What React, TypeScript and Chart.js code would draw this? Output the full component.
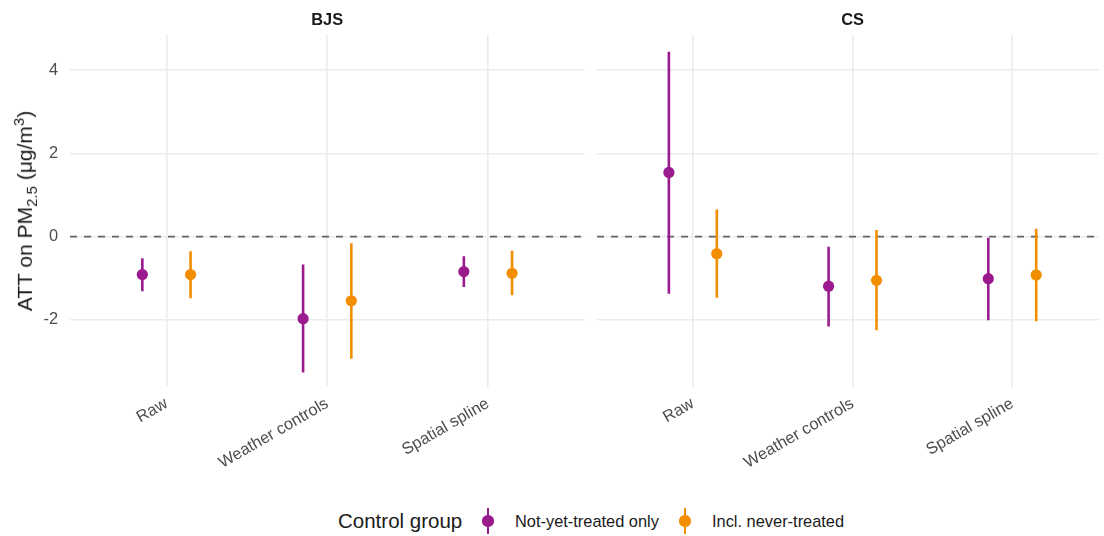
import React, { useEffect, useRef } from 'react';
import { Chart, registerables } from 'chart.js';

Chart.register(...registerables);

// ---- data ----
const methods = ['Raw', 'Weather controls', 'Spatial spline'];
const seriesNames = ['Not-yet-treated only', 'Incl. never-treated'];
const seriesColors = ['#9B1B8E', '#F28E00'];
const yTickValues = [-2, 0, 2, 4];
const dodge = [-0.15, 0.15];

// BJS panel
const bjsNytEst = [-0.91, -1.97, -0.84];
const bjsNytLo = [-1.31, -3.26, -1.21];
const bjsNytHi = [-0.52, -0.67, -0.47];
const bjsInclEst = [-0.91, -1.54, -0.88];
const bjsInclLo = [-1.48, -2.93, -1.41];
const bjsInclHi = [-0.35, -0.16, -0.34];

// CS panel
const csNytEst = [1.54, -1.19, -1.01];
const csNytLo = [-1.37, -2.16, -2.01];
const csNytHi = [4.44, -0.245, -0.03];
const csInclEst = [-0.41, -1.05, -0.92];
const csInclLo = [-1.47, -2.25, -2.03];
const csInclHi = [0.65, 0.16, 0.19];

const FONT = '"Liberation Sans", Arial, Helvetica, sans-serif';
const Y_MIN = -3.61;
const Y_MAX = 4.84;

const stripPlugin = {
  id: 'strip',
  afterDraw(chart: any, _args: any, opts: any) {
    const { ctx } = chart;
    const x = chart.scales.x.getPixelForValue(1);
    ctx.save();
    ctx.font = `bold 16.4px ${FONT}`;
    ctx.fillStyle = '#1A1A1A';
    ctx.textAlign = 'center';
    ctx.textBaseline = 'middle';
    ctx.fillText(opts.text, x, 20);
    ctx.restore();
  },
};

function makeDatasets(est: number[][], lo: number[][], hi: number[][], xMin: number, xMax: number) {
  const ds: any[] = [];
  ds.push({
    data: [{ x: xMin, y: 0 }, { x: xMax, y: 0 }],
    showLine: true,
    borderColor: '#666666',
    borderWidth: 1.8,
    borderDash: [7, 7],
    pointRadius: 0,
    order: 10,
  });
  est.forEach((values, s) => {
    const off = dodge[s];
    values.forEach((_v, i) => {
      ds.push({
        data: [{ x: i + off, y: lo[s][i] }, { x: i + off, y: hi[s][i] }],
        showLine: true,
        borderColor: seriesColors[s],
        borderWidth: 2.6,
        borderCapStyle: 'butt',
        pointRadius: 0,
        order: 5,
      });
    });
    ds.push({
      data: values.map((v, i) => ({ x: i + off, y: v })),
      showLine: false,
      pointRadius: 5.6,
      pointBackgroundColor: seriesColors[s],
      pointBorderWidth: 0,
      backgroundColor: seriesColors[s],
      borderColor: seriesColors[s],
      order: 1,
    });
  });
  return ds;
}

function makeConfig(opts: {
  title: string;
  est: number[][];
  lo: number[][];
  hi: number[][];
  xMax: number;
  showY: boolean;
  padLeft: number;
  padRight: number;
  yWidth: number;
  xHeight: number;
}) {
  const xMin = -0.6;
  return {
    type: 'scatter' as const,
    data: { datasets: makeDatasets(opts.est, opts.lo, opts.hi, xMin, opts.xMax) },
    options: {
      responsive: false,
      animation: false as const,
      devicePixelRatio: 1,
      layout: { padding: { top: 35, left: opts.padLeft, right: opts.padRight, bottom: 0 } },
      plugins: {
        legend: { display: false },
        tooltip: { enabled: false },
        strip: { text: opts.title },
      },
      scales: {
        x: {
          type: 'linear' as const,
          min: xMin,
          max: opts.xMax,
          afterBuildTicks: (scale: any) => {
            scale.ticks = methods.map((_m, i) => ({ value: i }));
          },
          afterFit: (scale: any) => {
            scale.height = opts.xHeight;
          },
          border: { display: false },
          grid: { color: '#EBEBEB', lineWidth: 1.6, drawTicks: false },
          ticks: {
            autoSkip: false,
            minRotation: 30,
            maxRotation: 30,
            padding: 7,
            color: '#4D4D4D',
            font: { family: FONT, size: 16.4 },
            callback: (v: any) => methods[Math.round(Number(v))] ?? '',
          },
        },
        y: {
          type: 'linear' as const,
          min: Y_MIN,
          max: Y_MAX,
          afterBuildTicks: (scale: any) => {
            scale.ticks = yTickValues.map((v) => ({ value: v }));
          },
          afterFit: (scale: any) => {
            scale.width = opts.yWidth;
          },
          border: { display: false },
          grid: { color: '#EBEBEB', lineWidth: 1.6, drawTicks: false },
          ticks: {
            display: opts.showY,
            padding: 12,
            color: '#4D4D4D',
            font: { family: FONT, size: 16.4 },
            callback: (v: any) => String(v),
          },
        },
      },
    },
    plugins: [stripPlugin],
  };
}

export default function App() {
  const leftRef = useRef<HTMLCanvasElement>(null);
  const rightRef = useRef<HTMLCanvasElement>(null);

  useEffect(() => {
    document.body.style.margin = '0';
    const left = new Chart(
      leftRef.current as HTMLCanvasElement,
      makeConfig({
        title: 'BJS',
        est: [bjsNytEst, bjsInclEst],
        lo: [bjsNytLo, bjsInclLo],
        hi: [bjsNytHi, bjsInclHi],
        xMax: 2.6,
        showY: true,
        padLeft: 0,
        padRight: 4,
        yWidth: 70,
        xHeight: 103,
      }) as any
    );
    const right = new Chart(
      rightRef.current as HTMLCanvasElement,
      makeConfig({
        title: 'CS',
        est: [csNytEst, csInclEst],
        lo: [csNytLo, csInclLo],
        hi: [csNytHi, csInclHi],
        xMax: -0.6 + (1104 - 597) / 161.5,
        showY: false,
        padLeft: 7,
        padRight: 0,
        yWidth: 0,
        xHeight: 103,
      }) as any
    );
    return () => {
      left.destroy();
      right.destroy();
    };
  }, []);

  const legendTextStyle: React.CSSProperties = {
    position: 'absolute',
    top: 521,
    transform: 'translateY(-50%)',
    fontSize: 16.4,
    color: '#1A1A1A',
    whiteSpace: 'nowrap',
  };

  const glyph = (cx: number, color: string) => (
    <div style={{ position: 'absolute', left: cx - 8, top: 521 - 13, width: 16, height: 26 }}>
      <div style={{ position: 'absolute', left: 6.7, top: 0, width: 2.6, height: 26, background: color }} />
      <div
        style={{
          position: 'absolute',
          left: 2.4,
          top: 7.4,
          width: 11.2,
          height: 11.2,
          borderRadius: '50%',
          background: color,
        }}
      />
    </div>
  );

  return (
    <div
      style={{
        position: 'fixed',
        left: 0,
        top: 0,
        width: 1104,
        height: 536,
        background: '#FFFFFF',
        fontFamily: FONT,
        overflow: 'hidden',
      }}
    >
      <canvas ref={leftRef} width={590} height={490} style={{ position: 'absolute', left: 0, top: 0 }} />
      <canvas ref={rightRef} width={514} height={490} style={{ position: 'absolute', left: 590, top: 0 }} />
      <div
        style={{
          position: 'absolute',
          left: 25,
          top: 211,
          transform: 'translate(-50%, -50%) rotate(-90deg)',
          fontSize: 21,
          color: '#1A1A1A',
          whiteSpace: 'nowrap',
          lineHeight: 1,
        }}
      >
        ATT on PM<sub style={{ fontSize: 15 }}>2.5</sub> (μg/m<sup style={{ fontSize: 15 }}>3</sup>)
      </div>
      <div style={{ ...legendTextStyle, left: 338, fontSize: 20.5 }}>Control group</div>
      {glyph(488, seriesColors[0])}
      <div style={{ ...legendTextStyle, left: 515 }}>{seriesNames[0]}</div>
      {glyph(685, seriesColors[1])}
      <div style={{ ...legendTextStyle, left: 712 }}>{seriesNames[1]}</div>
    </div>
  );
}
